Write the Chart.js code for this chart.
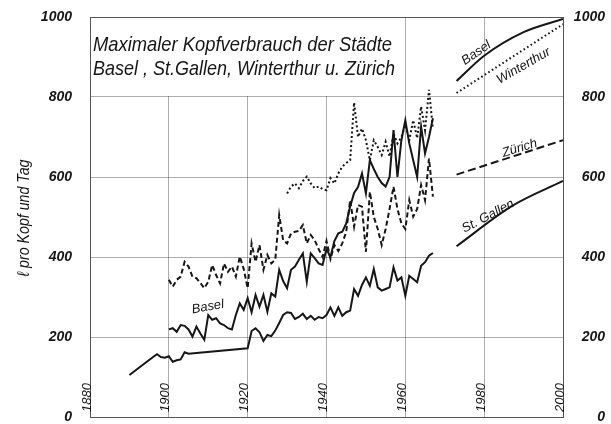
<!DOCTYPE html>
<html><head><meta charset="utf-8">
<script src="https://cdn.jsdelivr.net/npm/chart.js@4.4.1/dist/chart.umd.min.js"></script>
<style>html,body{margin:0;padding:0;background:#fff;}canvas{display:block;}</style>
</head><body>
<canvas id="c" width="611" height="424"></canvas>
<script>
// ---- data ----
const xTickLabels = [1880, 1900, 1920, 1940, 1960, 1980, 2000];
const yTickLabels = [0, 200, 400, 600, 800, 1000];

const sgYears = [1890,1896,1897,1898,1899,1900,1901,1902,1903,1904,1905,
  1920,1921,1922,1923,1924,1925,1926,1927,1928,1929,1930,1931,1932,1933,1934,1935,1936,1937,1938,1939,
  1940,1941,1942,1943,1944,1945,1946,1947,1948,1949,1950,1951,1952,1953,1954,1955,1956,1957,1958,1959,
  1960,1961,1962,1963,1964,1965,1966,1967];
const sgValues = [105,150,157,150,148,152,138,142,144,162,158,
  172,215,222,212,190,205,202,216,235,255,262,260,245,250,258,245,253,243,250,247,
  255,274,253,274,253,262,266,320,303,330,349,328,370,324,316,320,324,374,341,349,
  303,353,345,337,378,387,403,410];

const basYears = [1900,1901,1902,1903,1904,1905,1906,1907,1908,1909,1910,1911,1912,1913,1914,1915,1916,1917,1918,1919,
  1920,1921,1922,1923,1924,1925,1926,1927,1928,1929,1930,1931,1932,1933,1934,1935,1936,1937,1938,1939,
  1940,1941,1942,1943,1944,1945,1946,1947,1948,1949,1950,1951,1952,1953,1954,1955,1956,1957,1958,1959,
  1960,1961,1962,1963,1964,1965,1966,1967];
const basValues = [219,222,213,230,228,219,201,226,209,193,255,243,247,234,230,222,219,255,284,268,
  297,262,305,276,305,263,309,301,368,340,322,368,376,393,409,338,409,397,384,380,
  420,400,440,459,463,484,526,560,575,609,559,642,620,600,585,576,600,717,600,692,
  742,684,642,600,726,659,700,747];

const zurYears = basYears;
const zurValues = [343,326,343,351,388,376,351,347,335,322,338,380,355,334,384,363,376,351,401,370,
  322,434,388,430,368,405,384,393,505,442,434,459,463,465,480,434,455,442,420,400,
  440,395,430,415,434,463,542,476,530,526,413,563,500,470,430,470,520,576,520,484,
  470,542,501,520,580,542,646,551];

const winYears = [1930,1931,1932,1933,1934,1935,1936,1937,1938,1939,
  1940,1941,1942,1943,1944,1945,1946,1947,1948,1949,1950,1951,1952,1953,1954,1955,1956,1957,1958,1959,
  1960,1961,1962,1963,1964,1965,1966,1967];
const winValues = [559,576,584,572,590,601,584,572,576,570,
  567,597,584,609,626,635,642,786,700,721,692,642,692,675,655,688,651,709,684,700,
  730,692,742,697,776,717,818,720];

// projections
const basProjYears = [1973, 1980, 1990, 2000];
const basProjValues = [840, 903, 962, 995];
const winProjYears = [1973, 2000];
const winProjValues = [810, 982];
const zurProjYears = [1973, 2000];
const zurProjValues = [606, 692];
const sgProjYears = [1973, 1987, 2000];
const sgProjValues = [427, 527, 590];

// labels placed in data coordinates
const lineLabels = [
  {text: 'Basel', year: 1909.9, value: 275, angle: -10},
  {text: 'Basel', year: 1978, value: 910, angle: -35},
  {text: 'Winterthur', year: 1990, value: 878, angle: -30},
  {text: 'Zürich', year: 1989, value: 672, angle: -17},
  {text: 'St. Gallen', year: 1981, value: 502, angle: -28}
];
const titleLines = ['Maximaler Kopfverbrauch der Städte', 'Basel , St.Gallen, Winterthur u. Zürich'];
const yTitle = 'ℓ pro Kopf und Tag';

// ---- chart ----
const FAM = "'Liberation Sans', Arial, sans-serif";
const INK = '#161616';
const GRID = 'rgba(0,0,0,0.32)';
const pts = (xs, ys) => xs.map((x, i) => ({x: x, y: ys[i]}));

function ds(xs, ys, dash, extra) {
  return Object.assign({
    data: pts(xs, ys), borderColor: INK, borderWidth: 2, borderDash: dash,
    pointRadius: 0, fill: false, tension: 0, borderJoinStyle: 'miter'
  }, extra || {});
}

const deco = {
  id: 'deco',
  beforeDatasetsDraw(chart) {
    const {ctx, chartArea: a, scales: {x, y}} = chart;
    const x1 = x.getPixelForValue(1960);
    const y1 = y.getPixelForValue(800);
    ctx.save();
    ctx.fillStyle = '#fff';
    ctx.fillRect(a.left + 1, a.top + 1, x1 - a.left - 2, y1 - a.top - 2);
    ctx.restore();
  },
  afterDraw(chart) {
    const {ctx, chartArea: a, scales: {x, y}} = chart;
    ctx.save();
    ctx.fillStyle = INK;
    const fitText = (t, px, py, w, size, angle) => {
      ctx.save();
      ctx.font = 'italic ' + size + 'px ' + FAM;
      const m = ctx.measureText(t).width;
      ctx.translate(px, py);
      if (angle) ctx.rotate(angle);
      ctx.scale(w / m, 1);
      ctx.fillText(t, 0, 0);
      ctx.restore();
    };
    ctx.textAlign = 'left';
    ctx.textBaseline = 'alphabetic';
    fitText(titleLines[0], a.left + 3, a.top + 34, 299, 21, 0);
    fitText(titleLines[1], a.left + 3, a.top + 58, 302, 21, 0);

    // y axis title (rotated)
    ctx.save();
    ctx.font = 'italic 17px ' + FAM;
    const m = ctx.measureText(yTitle).width;
    ctx.translate(24, (a.top + a.bottom) / 2 + 1);
    ctx.rotate(-Math.PI / 2);
    ctx.scale(117 / m, 1);
    ctx.textAlign = 'center';
    ctx.textBaseline = 'middle';
    ctx.fillText(yTitle, 0, 0);
    ctx.restore();

    // x tick labels inside the plot
    ctx.font = 'italic 13px ' + FAM;
    xTickLabels.forEach(v => {
      const px = x.getPixelForValue(v) - 3;
      ctx.save();
      ctx.translate(px, a.bottom - 5);
      ctx.rotate(-Math.PI / 2);
      ctx.textAlign = 'left';
      ctx.textBaseline = 'middle';
      ctx.fillText(String(v), 0, 0);
      ctx.restore();
    });

    // line labels
    ctx.font = 'italic 13px ' + FAM;
    lineLabels.forEach(l => {
      ctx.save();
      ctx.translate(x.getPixelForValue(l.year), y.getPixelForValue(l.value));
      ctx.rotate(l.angle * Math.PI / 180);
      ctx.textAlign = 'center';
      ctx.textBaseline = 'middle';
      ctx.fillText(l.text, 0, 0);
      ctx.restore();
    });
    ctx.restore();
  }
};

const tickFont = {family: FAM, size: 14, style: 'italic', weight: 'bold', lineHeight: 0.7};

new Chart(document.getElementById('c'), {
  type: 'line',
  data: {
    datasets: [
      ds(sgYears, sgValues, []),
      ds(basYears, basValues, []),
      ds(zurYears, zurValues, [5, 3]),
      ds(winYears, winValues, [2, 2.5]),
      ds(basProjYears, basProjValues, [], {cubicInterpolationMode: 'monotone'}),
      ds(winProjYears, winProjValues, [1.6, 2.6]),
      ds(zurProjYears, zurProjValues, [8, 4]),
      ds(sgProjYears, sgProjValues, [], {cubicInterpolationMode: 'monotone'})
    ]
  },
  options: {
    responsive: false, animation: false, devicePixelRatio: 1,
    layout: {padding: {top: 17, right: 6, bottom: 0, left: 0}},
    plugins: {legend: {display: false}, tooltip: {enabled: false}, title: {display: false}},
    scales: {
      x: {
        type: 'linear', min: 1880, max: 2000,
        afterBuildTicks: s => { s.ticks = xTickLabels.map(v => ({value: v})); },
        ticks: {display: false},
        grid: {color: GRID, lineWidth: 1, drawTicks: false},
        border: {color: '#555', width: 1},
        afterFit: s => { s.height = 7; }
      },
      y: {
        position: 'left', min: 0, max: 1000,
        afterBuildTicks: s => { s.ticks = yTickLabels.map(v => ({value: v})); },
        ticks: {font: tickFont, color: INK, padding: 0, callback: v => String(v)},
        grid: {color: c => (c.tick && c.tick.value === 1000) ? '#555' : GRID, lineWidth: 1,
               drawTicks: true, tickLength: 18, tickColor: 'rgba(0,0,0,0)'},
        border: {color: '#555', width: 1},
        afterFit: s => { s.width = 90; }
      },
      y2: {
        position: 'right', min: 0, max: 1000,
        afterBuildTicks: s => { s.ticks = yTickLabels.map(v => ({value: v})); },
        ticks: {font: tickFont, color: INK, padding: 0, crossAlign: 'far', callback: v => String(v)},
        grid: {drawOnChartArea: false, drawTicks: false},
        border: {color: '#555', width: 1},
        afterFit: s => { s.width = 42; }
      }
    }
  },
  plugins: [deco]
});
</script>
</body></html>
